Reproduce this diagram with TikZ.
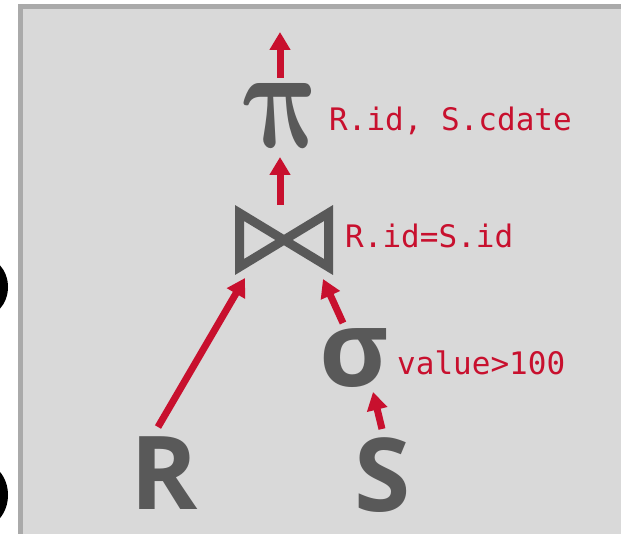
\documentclass[tikz,border=0pt]{standalone}
\usepackage{fontspec}
\usepackage{bm}
\usetikzlibrary{arrows.meta}
\newfontfamily\labelfont{DejaVu Sans Mono}
\newfontfamily\opfont{Open Sans}
\definecolor{opgray}{HTML}{595959}
\definecolor{arrred}{HTML}{C8102E}
\definecolor{panelfill}{HTML}{D9D9D9}
\definecolor{paneledge}{HTML}{AAAAAA}
\begin{document}
\begin{tikzpicture}[x=1pt,y=-1pt,
  flow/.style={draw=arrred,line width=7pt,-{Triangle[width=20pt,length=18pt]}},
  cond/.style={text=arrred,font=\labelfont\fontsize{31}{32}\selectfont,inner sep=0pt,anchor=base west},
  op/.style={text=opgray,inner sep=0pt,anchor=base},
  bowtie/.style={draw=opgray,line width=9pt,line join=miter}
]
\useasboundingbox (0,0) rectangle (621,534);
\fill[white] (0,0) rectangle (621,534);
\begin{scope}
\clip (0,0) rectangle (621,534);
\fill[black] (-20,287) ellipse [x radius=28pt, y radius=31pt];
\fill[black] (-20,495) ellipse [x radius=28pt, y radius=33pt];
\end{scope}
\fill[paneledge] (18,4) rectangle (621,534);
\fill[panelfill] (23,9) rectangle (621,534);
% operators
\node[op,xslant=-0.25,transform shape] (proj) at (292,148) {\resizebox{80pt}{64pt}{$\bm{\pi}$}};
\node[op,font=\opfont\bfseries\fontsize{106}{106}\selectfont] (sel) at (354,387) {σ};
\node[op,font=\opfont\bfseries\fontsize{102}{102}\selectfont] (relR) at (164,509) {R};
\node[op,font=\opfont\bfseries\fontsize{102}{102}\selectfont] (relS) at (383,511) {S};
\coordinate (join) at (284,240);
\draw[bowtie] (239.5,213) -- (328.5,267) -- (328.5,213) -- (239.5,267) -- cycle;
% labels
\node[cond] (projlbl) at (329,131) {R.id, S.cdate};
\node[cond] (joinlbl) at (345,248) {R.id=S.id};
\node[cond] (sellbl) at (397,375) {value>100};
% connector ends
\coordinate (outtip) at (280,32);
\coordinate (projtop) at (280,78);
\coordinate (projin) at (280,157);
\coordinate (jointop) at (280,205);
\coordinate (joinL) at (245,278);
\coordinate (Rtop) at (158,427);
\coordinate (joinR) at (323,279);
\coordinate (seltop) at (343,323);
\coordinate (selin) at (373,392);
\coordinate (Stop) at (382,429);
\draw[flow] (projtop) -- (outtip);
\draw[flow] (jointop) -- (projin);
\draw[flow] (Rtop) -- (joinL);
\draw[flow] (seltop) -- (joinR);
\draw[flow] (Stop) -- (selin);
\end{tikzpicture}
\end{document}
